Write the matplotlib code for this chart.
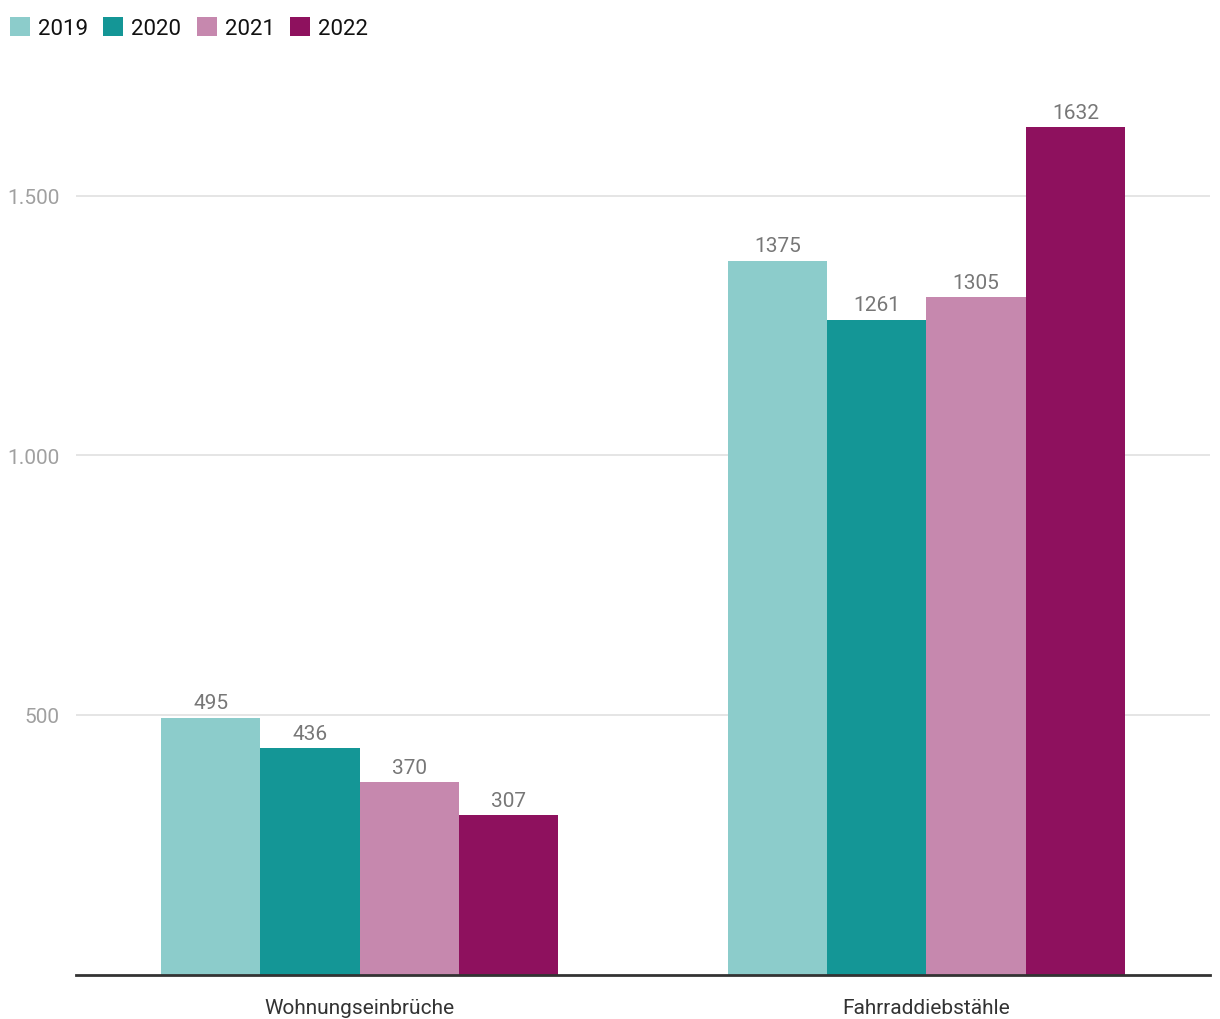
import matplotlib.pyplot as plt
import numpy as np
from matplotlib.patches import Patch

plt.rcParams["font.family"] = ["Roboto", "DejaVu Sans"]

categories = ["Wohnungseinbrüche", "Fahrraddiebstähle"]
years = ["2019", "2020", "2021", "2022"]
values_2019 = [495, 1375]
values_2020 = [436, 1261]
values_2021 = [370, 1305]
values_2022 = [307, 1632]
series = [values_2019, values_2020, values_2021, values_2022]
colors = ["#8ccccb", "#149696", "#c688ae", "#8e115e"]
yticks = [500, 1000, 1500]
yticklabels = ["500", "1.000", "1.500"]

fig = plt.figure(figsize=[12.2, 10.2], dpi=100)
ax = fig.add_axes([0.0623, 0.0436, 0.9295, 0.8652])

x = np.arange(len(categories))
width = 0.175
for i, vals in enumerate(series):
    pos = x + (i - 1.5) * width
    bars = ax.bar(pos, vals, width, color=colors[i], zorder=3)
    for b, v in zip(bars, vals):
        ax.annotate(
            str(v),
            (b.get_x() + b.get_width() / 2, v),
            xytext=(0, 4),
            textcoords="offset points",
            ha="center",
            va="bottom",
            fontsize=15,
            color="#777777",
        )

ax.set_xlim(-0.5, 1.5)
ax.set_ylim(0, 1700)
ax.set_yticks(yticks)
ax.set_yticklabels(yticklabels, fontsize=15, color="#a0a0a0")
ax.set_xticks(x)
ax.set_xticklabels(categories, fontsize=15, color="#333333")
ax.tick_params(axis="y", length=0, pad=12)
ax.tick_params(axis="x", length=0, pad=17)
ax.grid(axis="y", color="#e3e3e3", linewidth=1.3, zorder=0)
for s in ["top", "right", "left"]:
    ax.spines[s].set_visible(False)
ax.spines["bottom"].set_color("#333333")
ax.spines["bottom"].set_linewidth(2)
ax.spines["bottom"].set_zorder(4)

handles = [Patch(facecolor=c, edgecolor="none") for c in colors]
fig.legend(
    handles,
    years,
    loc="center left",
    bbox_to_anchor=(10 / 1220, 1 - 29 / 1020),
    ncol=4,
    frameon=False,
    fontsize=16,
    labelcolor="#111111",
    handlelength=0.9,
    handleheight=0.9,
    handletextpad=0.35,
    columnspacing=0.7,
    borderaxespad=0,
    borderpad=0,
)

fig.savefig("out.png", dpi=100)
